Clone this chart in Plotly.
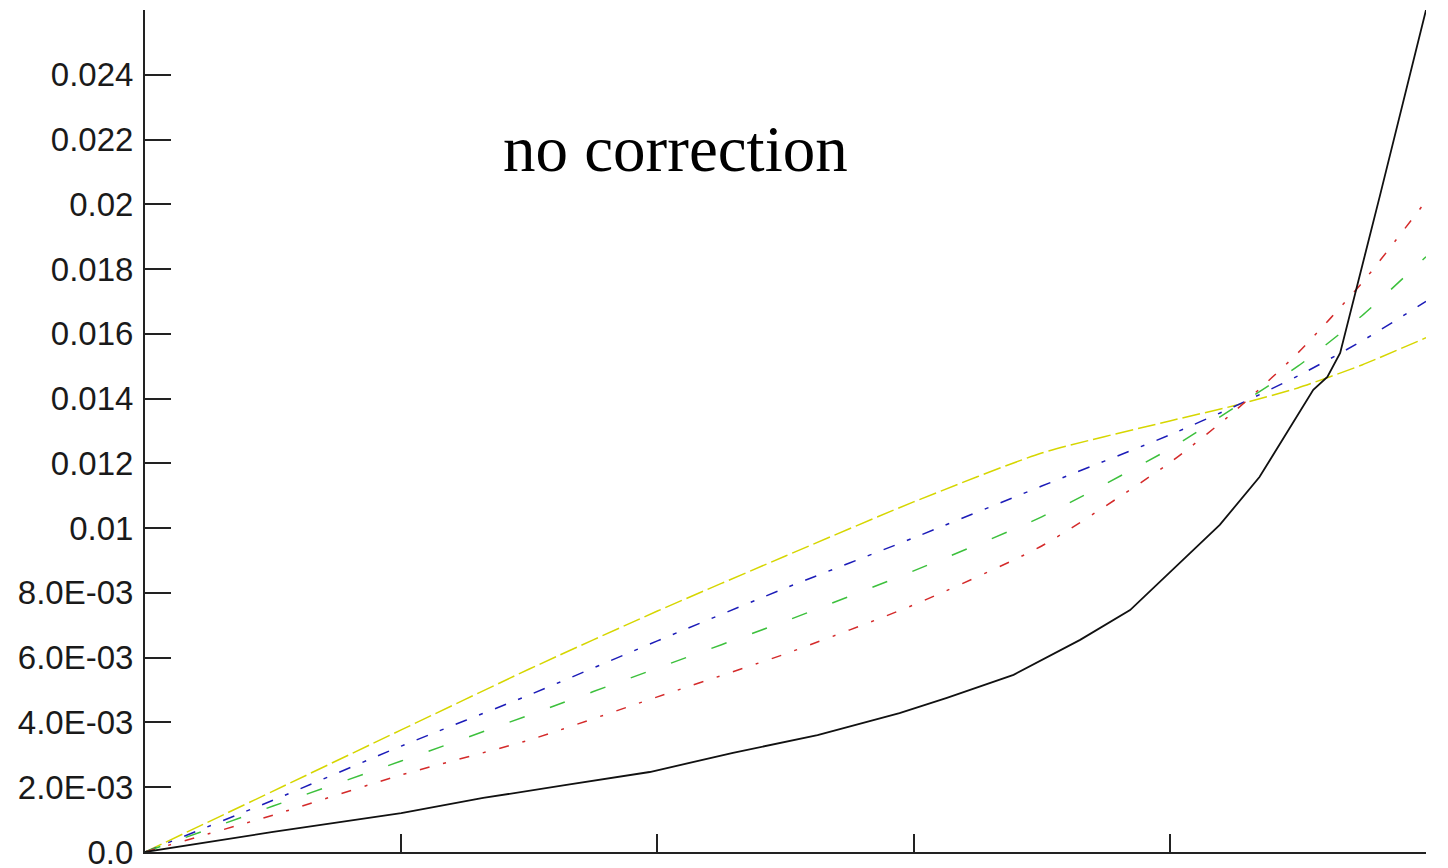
import plotly.graph_objects as go

# Sample positions shared by the four coloured curves
x_grid = [0.0, 0.1, 0.2, 0.3, 0.4, 0.5, 0.6, 0.7, 0.8, 0.85, 0.9, 0.95, 1.0]

yellow_vals = [0.0, 0.00188, 0.00377, 0.00565, 0.00744, 0.00914, 0.01081, 0.01232,
               0.01331, 0.01378, 0.01433, 0.01504, 0.01588]
blue_vals = [0.0, 0.0016, 0.00327, 0.00485, 0.00652, 0.00815, 0.0097, 0.0113,
             0.01288, 0.01375, 0.0147, 0.01578, 0.0170]
green_vals = [0.0, 0.00142, 0.00281, 0.00423, 0.00568, 0.00713, 0.00868, 0.01035,
              0.01245, 0.01371, 0.0150, 0.01656, 0.01838]
red_vals = [0.0, 0.00114, 0.00238, 0.00346, 0.00479, 0.00612, 0.00763, 0.00945,
            0.01202, 0.01359, 0.01541, 0.01757, 0.0201]

# Uncorrected curve
black_x = [0.0, 0.1, 0.2, 0.264, 0.329, 0.394, 0.459, 0.525, 0.589, 0.626, 0.678,
           0.73, 0.769, 0.808, 0.839, 0.87, 0.894, 0.912, 0.923, 0.933, 0.964, 1.0]
black_vals = [0.0, 0.00062, 0.0012, 0.00167, 0.00207, 0.00247, 0.00306, 0.00361,
              0.00429, 0.00476, 0.00547, 0.00655, 0.00747, 0.00892, 0.0101, 0.01158,
              0.0131, 0.01427, 0.01467, 0.01541, 0.02026, 0.026]

y_tickvals = [0.0, 0.002, 0.004, 0.006, 0.008, 0.01, 0.012, 0.014, 0.016, 0.018,
              0.02, 0.022, 0.024]
y_ticktext = ["0.0", "2.0E-03", "4.0E-03", "6.0E-03", "8.0E-03", "0.01", "0.012",
              "0.014", "0.016", "0.018", "0.02", "0.022", "0.024"]
x_tickvals = [0.0, 0.2, 0.4, 0.6, 0.8, 1.0]

fig = go.Figure()

series = [
    (yellow_vals, "#d6d600", "18px,5px"),
    (blue_vals, "#1c1cb8", "12px,13px,4px,13px"),
    (green_vals, "#3cc03c", "16px,27px"),
    (red_vals, "#d42a2a", "10px,14px,3px,14px"),
]
for vals, color, dash in series:
    fig.add_trace(go.Scatter(
        x=x_grid, y=vals, mode="lines",
        line=dict(color=color, width=1.5, dash=dash, shape="spline", smoothing=0.6),
        showlegend=False, hoverinfo="skip",
    ))

fig.add_trace(go.Scatter(
    x=black_x, y=black_vals, mode="lines",
    line=dict(color="#111111", width=1.8),
    showlegend=False, hoverinfo="skip",
))

fig.add_annotation(
    x=0.4145, y=0.0217, xref="x", yref="y",
    text="no correction", showarrow=False,
    font=dict(family="Liberation Serif, Times New Roman, serif", size=65, color="#000000"),
    xanchor="center", yanchor="middle",
)

fig.update_layout(
    width=1448, height=868,
    margin=dict(l=145, r=22, t=10, b=16),
    paper_bgcolor="white", plot_bgcolor="white",
    showlegend=False,
)

fig.update_xaxes(
    range=[0, 1], tickvals=x_tickvals, showticklabels=False,
    ticks="inside", ticklen=18, tickwidth=1.6, tickcolor="#222222",
    showline=True, linecolor="#222222", linewidth=2,
    showgrid=False, zeroline=False, automargin=False,
)

fig.update_yaxes(
    range=[0, 0.026], tickvals=y_tickvals, ticktext=y_ticktext,
    ticks="inside", ticklen=26, tickwidth=1.6, tickcolor="#222222",
    showline=True, linecolor="#222222", linewidth=2,
    showgrid=False, zeroline=False, automargin=False,
    tickfont=dict(family="Liberation Sans, Arial, sans-serif", size=33, color="#1a1a1a"),
    ticklabelstandoff=3, ticklabeloverflow="allow",
)

fig.write_html("out.html")
